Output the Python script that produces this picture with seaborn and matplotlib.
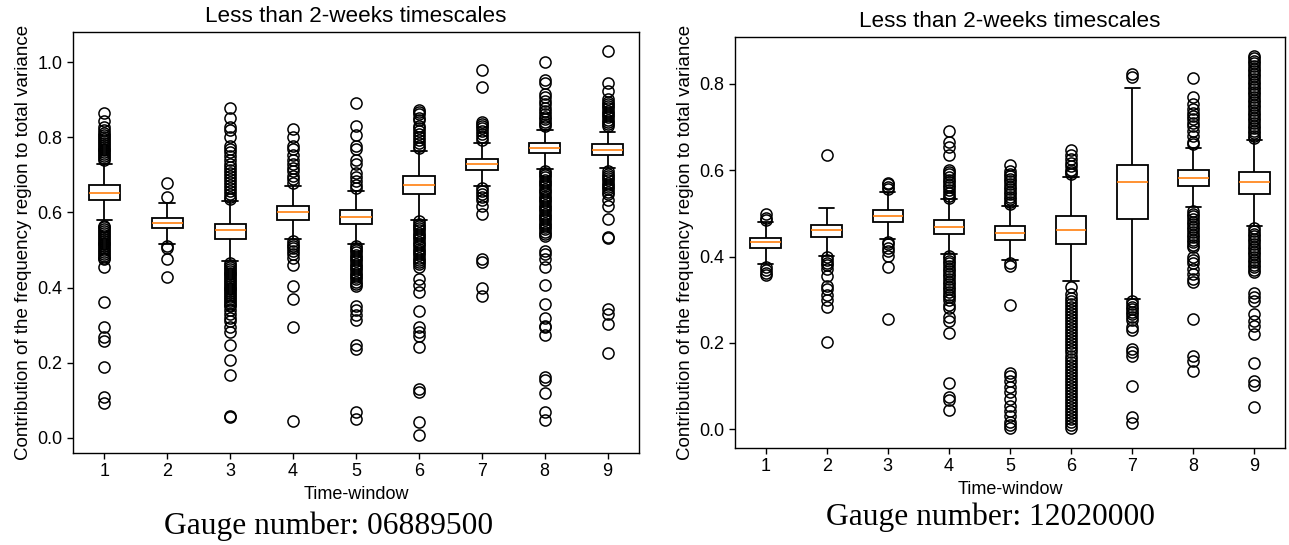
import matplotlib
matplotlib.use("Agg")
import matplotlib.pyplot as plt
import pandas as pd
import seaborn as sns

# ---------------- data ----------------
windows = ["1", "2", "3", "4", "5", "6", "7", "8", "9"]

title_text = "Less than 2-weeks timescales"
ylabel_text = "Contribution of the frequency region to total variance"
xlabel_text = "Time-window"
gauge_left = "Gauge number: 06889500"
gauge_right = "Gauge number: 12020000"

# Left panel (gauge 06889500) box statistics
L_q1 = [0.632, 0.558, 0.529, 0.581, 0.570, 0.650, 0.713, 0.757, 0.753]
L_med = [0.651, 0.572, 0.552, 0.600, 0.589, 0.674, 0.728, 0.771, 0.767]
L_q3 = [0.674, 0.586, 0.570, 0.617, 0.607, 0.697, 0.742, 0.785, 0.781]
L_lo = [0.579, 0.517, 0.470, 0.529, 0.515, 0.580, 0.670, 0.716, 0.718]
L_hi = [0.730, 0.625, 0.631, 0.669, 0.657, 0.764, 0.785, 0.820, 0.815]

L_f1 = [0.864, 0.842, 0.826, 0.818, 0.812, 0.806, 0.800, 0.795, 0.790, 0.785, 0.780,
        0.775, 0.770, 0.765, 0.760, 0.755, 0.750, 0.745, 0.740,
        0.565, 0.560, 0.555, 0.550, 0.545, 0.540, 0.535, 0.530, 0.525, 0.520, 0.515,
        0.510, 0.505, 0.500, 0.495, 0.490, 0.485, 0.480, 0.476, 0.456, 0.362, 0.296,
        0.269, 0.257, 0.188, 0.109, 0.094]
L_f2 = [0.679, 0.640, 0.512, 0.505, 0.475, 0.429]
L_f3 = [0.878, 0.852, 0.826, 0.820, 0.800, 0.776, 0.768, 0.760, 0.750, 0.740, 0.730,
        0.722, 0.714, 0.706, 0.698, 0.690, 0.682, 0.674, 0.666, 0.658, 0.650, 0.642, 0.636,
        0.465, 0.460, 0.455, 0.450, 0.445, 0.440, 0.435, 0.430, 0.425, 0.420, 0.415,
        0.410, 0.405, 0.400, 0.395, 0.390, 0.385, 0.380, 0.375, 0.370, 0.365, 0.360,
        0.355, 0.350, 0.340, 0.331, 0.318, 0.310, 0.294, 0.281, 0.248, 0.208, 0.167,
        0.058, 0.056]
L_f4 = [0.822, 0.800, 0.776, 0.770, 0.753, 0.739, 0.728, 0.718, 0.711, 0.697, 0.688, 0.679,
        0.524, 0.517, 0.510, 0.505, 0.498, 0.489, 0.480, 0.461, 0.404, 0.369, 0.294, 0.044]
L_f5 = [0.890, 0.831, 0.806, 0.776, 0.770, 0.739, 0.730, 0.706, 0.693, 0.683, 0.674, 0.666,
        0.512, 0.506, 0.500, 0.494, 0.488, 0.482, 0.476, 0.470, 0.464, 0.458, 0.452,
        0.446, 0.440, 0.434, 0.428, 0.422, 0.416, 0.410, 0.405, 0.350, 0.340, 0.327,
        0.315, 0.248, 0.236, 0.068, 0.051]
L_f6 = [0.873, 0.868, 0.862, 0.850, 0.845, 0.831, 0.825, 0.816, 0.808, 0.800, 0.792,
        0.785, 0.778, 0.772,
        0.576, 0.570, 0.564, 0.558, 0.552, 0.546, 0.540, 0.534, 0.528, 0.522, 0.516,
        0.510, 0.504, 0.498, 0.492, 0.486, 0.480, 0.474, 0.468, 0.462, 0.456, 0.424,
        0.406, 0.387, 0.338, 0.294, 0.281, 0.271, 0.241, 0.130, 0.123, 0.043, 0.009]
L_f7 = [0.980, 0.933, 0.841, 0.836, 0.831, 0.824, 0.816, 0.808, 0.800, 0.793,
        0.665, 0.656, 0.648, 0.640, 0.632, 0.617, 0.595, 0.475, 0.469, 0.398, 0.378]
L_f8 = [1.000, 0.952, 0.943, 0.915, 0.906, 0.896, 0.888, 0.878, 0.870, 0.862, 0.855,
        0.848, 0.841, 0.835, 0.830,
        0.711, 0.705, 0.699, 0.693, 0.687, 0.681, 0.675, 0.669, 0.663, 0.657, 0.651,
        0.645, 0.639, 0.633, 0.627, 0.621, 0.615, 0.609, 0.603, 0.597, 0.591, 0.585,
        0.579, 0.573, 0.567, 0.561, 0.555, 0.549, 0.543, 0.537, 0.498, 0.489, 0.475,
        0.456, 0.406, 0.356, 0.318, 0.299, 0.294, 0.274, 0.162, 0.153, 0.119, 0.068, 0.047]
L_f9 = [1.029, 0.945, 0.922, 0.901, 0.895, 0.889, 0.883, 0.877, 0.871, 0.865, 0.859,
        0.853, 0.847, 0.841, 0.835, 0.829,
        0.709, 0.703, 0.697, 0.691, 0.685, 0.679, 0.673, 0.667, 0.661, 0.655, 0.648,
        0.632, 0.617, 0.583, 0.535, 0.531, 0.343, 0.331, 0.304, 0.227]
L_fliers = [L_f1, L_f2, L_f3, L_f4, L_f5, L_f6, L_f7, L_f8, L_f9]

# Right panel (gauge 12020000) box statistics
R_q1 = [0.419, 0.445, 0.480, 0.453, 0.439, 0.430, 0.486, 0.564, 0.544]
R_med = [0.433, 0.461, 0.494, 0.469, 0.455, 0.461, 0.572, 0.581, 0.572]
R_q3 = [0.444, 0.474, 0.508, 0.485, 0.471, 0.493, 0.611, 0.601, 0.595]
R_lo = [0.382, 0.402, 0.441, 0.406, 0.392, 0.343, 0.302, 0.515, 0.471]
R_hi = [0.481, 0.513, 0.549, 0.532, 0.518, 0.585, 0.790, 0.651, 0.670]

R_f1 = [0.499, 0.489, 0.484, 0.376, 0.368, 0.362, 0.357]
R_f2 = [0.635, 0.398, 0.392, 0.386, 0.380, 0.372, 0.356, 0.332, 0.324, 0.312, 0.300,
        0.284, 0.202]
R_f3 = [0.571, 0.567, 0.562, 0.556, 0.434, 0.428, 0.420, 0.412, 0.402, 0.375, 0.256]
R_f4 = [0.691, 0.666, 0.654, 0.635, 0.601, 0.596, 0.590, 0.584, 0.578, 0.572, 0.566,
        0.560, 0.554, 0.548, 0.541, 0.536,
        0.402, 0.396, 0.390, 0.384, 0.378, 0.372, 0.366, 0.360, 0.354, 0.348, 0.342,
        0.336, 0.330, 0.324, 0.318, 0.312, 0.306, 0.300, 0.288, 0.280, 0.260, 0.252,
        0.224, 0.107, 0.075, 0.067, 0.045]
R_f5 = [0.611, 0.598, 0.592, 0.586, 0.580, 0.574, 0.568, 0.562, 0.556, 0.550, 0.544,
        0.538, 0.532, 0.526, 0.522,
        0.384, 0.378, 0.288, 0.131, 0.123, 0.111, 0.099, 0.087, 0.071, 0.055, 0.043,
        0.031, 0.018, 0.010, 0.003]
R_f6 = [0.647, 0.634, 0.626, 0.617, 0.609, 0.601, 0.595, 0.590,
        0.330, 0.314, 0.304, 0.297, 0.290, 0.283, 0.276, 0.269, 0.262, 0.255, 0.248,
        0.241, 0.234, 0.227, 0.220, 0.213, 0.206, 0.199, 0.192, 0.185, 0.178, 0.171,
        0.164, 0.157, 0.150, 0.143, 0.136, 0.129, 0.122, 0.115, 0.108, 0.101, 0.094,
        0.087, 0.080, 0.073, 0.066, 0.059, 0.052, 0.045, 0.038, 0.031, 0.024, 0.017,
        0.010, 0.004]
R_f7 = [0.822, 0.815,
        0.296, 0.290, 0.284, 0.278, 0.272, 0.266, 0.260, 0.254, 0.236, 0.229, 0.187,
        0.179, 0.171, 0.100, 0.028, 0.016]
R_f8 = [0.814, 0.770, 0.754, 0.742, 0.733, 0.725, 0.718, 0.710, 0.702, 0.690, 0.678,
        0.666, 0.660,
        0.505, 0.499, 0.493, 0.487, 0.481, 0.475, 0.469, 0.463, 0.457, 0.451, 0.445,
        0.439, 0.433, 0.427, 0.421, 0.400, 0.392, 0.384, 0.372, 0.360, 0.348, 0.340,
        0.256, 0.171, 0.159, 0.135]
R_f9 = [0.865, 0.859, 0.853, 0.847, 0.841, 0.835, 0.829, 0.823, 0.817, 0.811, 0.805,
        0.799, 0.793, 0.787, 0.781, 0.775, 0.769, 0.763, 0.757, 0.751, 0.745, 0.739,
        0.733, 0.727, 0.721, 0.715, 0.709, 0.703, 0.697, 0.691, 0.685, 0.679, 0.674,
        0.465, 0.459, 0.453, 0.447, 0.441, 0.435, 0.429, 0.423, 0.417, 0.411, 0.405,
        0.399, 0.393, 0.387, 0.381, 0.375, 0.370, 0.364, 0.316, 0.306, 0.296, 0.268,
        0.250, 0.240, 0.220, 0.154, 0.111, 0.103, 0.052]
R_fliers = [R_f1, R_f2, R_f3, R_f4, R_f5, R_f6, R_f7, R_f8, R_f9]


# ---------------- build long-form samples that reproduce the box statistics -------------
def build_frame(q1, med, q3, lo, hi, fliers, block=2000):
    rows = []
    for w, a, m, b, l, h, f in zip(windows, q1, med, q3, lo, hi, fliers):
        vals = list(f) + [l, h] + [a] * block + [m] * block + [b] * block
        rows.extend((w, v) for v in vals)
    return pd.DataFrame(rows, columns=["window", "value"])


df_left = build_frame(L_q1, L_med, L_q3, L_lo, L_hi, L_fliers)
df_right = build_frame(R_q1, R_med, R_q3, R_lo, R_hi, R_fliers)

# ---------------- style ----------------
sns.set_style("ticks")
plt.rcParams["font.family"] = ["Liberation Sans", "DejaVu Sans"]
plt.rcParams.update({
    "axes.linewidth": 1.0,
    "axes.edgecolor": "black",
    "axes.labelcolor": "black",
    "text.color": "black",
    "xtick.color": "black",
    "ytick.color": "black",
    "xtick.major.width": 1.0,
    "ytick.major.width": 1.0,
})

fig = plt.figure(figsize=(12.89, 5.45), dpi=100)
W, H = 1289, 545
ax_l = fig.add_axes([73 / W, 1 - 453 / H, (639 - 73) / W, (453 - 32) / H])
ax_r = fig.add_axes([735 / W, 1 - 448 / H, (1285 - 735) / W, (448 - 37) / H])

box_kw = dict(
    x="window", y="value", order=windows, width=0.5,
    color="white", linecolor="black", linewidth=1.3, whis=1.5,
    medianprops=dict(color="#ff7f0e", linewidth=1.2),
    flierprops=dict(marker="o", markerfacecolor="none", markeredgecolor="black",
                    markersize=8, markeredgewidth=1.1),
)

for ax, df, ylim, gauge, gx, gy in [
    (ax_l, df_left, (-0.04, 1.08), gauge_left, 329, 534),
    (ax_r, df_right, (-0.043, 0.908), gauge_right, 990, 525),
]:
    sns.boxplot(data=df, ax=ax, **box_kw)
    ax.set_xlim(-0.5, 8.5)
    ax.set_ylim(*ylim)
    ax.set_yticks([0.0, 0.2, 0.4, 0.6, 0.8] + ([1.0] if ylim[1] > 1 else []))
    ax.yaxis.set_major_formatter(matplotlib.ticker.FormatStrFormatter("%.1f"))
    ax.tick_params(labelsize=13, length=4, color="black", labelcolor="black")
    ax.set_title(title_text, fontsize=16.2, pad=7, color="black")
    ax.set_xlabel(xlabel_text, fontsize=13)
    ax.set_ylabel(ylabel_text, fontsize=13.5)
    for s in ax.spines.values():
        s.set_visible(True)
        s.set_color("black")
    fig.text(gx / W, 1 - gy / H, gauge, fontsize=22.7, ha="center", va="baseline",
             family=["Liberation Serif", "DejaVu Serif"])

fig.savefig("out.png", dpi=100)
